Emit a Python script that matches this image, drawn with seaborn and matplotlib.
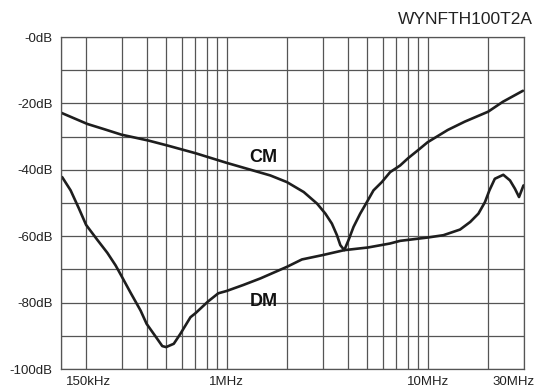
import numpy as np
import matplotlib.pyplot as plt
import matplotlib.transforms as mtransforms
import pandas as pd
import seaborn as sns

# insertion loss curves, frequency in MHz, attenuation in dB
cm_freq = [0.15, 0.203, 0.247, 0.299, 0.409, 0.509, 0.70, 1.0, 1.446, 1.65, 1.995,
           2.42, 2.82, 3.10, 3.34, 3.54, 3.68, 3.85, 4.04, 4.28, 4.62, 4.99, 5.38,
           5.92, 6.51, 7.3, 8.0, 9.0, 10.0, 12.6, 15.3, 20.0, 23.7, 29.8]
cm_db = [-22.8, -26.2, -27.8, -29.4, -31.2, -32.7, -35.0, -37.9, -40.7, -41.7, -43.7,
         -46.7, -50.2, -53.2, -56.2, -59.7, -62.7, -64.2, -61.2, -57.2, -53.2, -49.7,
         -46.2, -43.7, -40.7, -38.7, -36.5, -34.0, -31.7, -28.0, -25.5, -22.5, -19.5,
         -16.2]

dm_freq = [0.152, 0.1675, 0.184, 0.2, 0.2274, 0.255, 0.2804, 0.3, 0.3327, 0.3733,
           0.4, 0.4515, 0.4786, 0.5, 0.546, 0.589, 0.661, 0.70, 0.807, 0.909, 1.0,
           1.21, 1.475, 2.0, 2.37, 3.0, 3.85, 5.05, 6.5, 7.3, 10.0, 11.98, 14.5,
           16.3, 17.9, 19.3, 20.3, 21.6, 23.8, 25.7, 27.2, 28.5, 30.0]
dm_db = [-42.2, -46.2, -51.6, -56.6, -61.1, -65.0, -68.8, -72.0, -77.0, -82.4,
         -86.4, -90.9, -93.1, -93.4, -92.4, -89.4, -84.4, -83.2, -79.7, -77.2, -76.5,
         -74.7, -72.7, -69.2, -67.0, -65.7, -64.2, -63.4, -62.2, -61.4, -60.4, -59.7,
         -58.0, -55.7, -53.2, -49.7, -46.2, -42.7, -41.5, -43.2, -45.7, -48.2, -44.7]

x_ticks = [0.15, 1, 10, 30]
x_labels = ['150kHz', '1MHz', '10MHz', '30MHz']
x_grid = [0.2, 0.3, 0.4, 0.5, 0.6, 0.7, 0.8, 0.9, 2, 3, 4, 5, 6, 7, 8, 9, 20]
y_ticks = [0, -20, -40, -60, -80, -100]
y_labels = ['-0dB', '-20dB', '-40dB', '-60dB', '-80dB', '-100dB']
y_grid = [-10, -30, -50, -70, -90]

sns.set_style('white')
plt.rcParams['font.family'] = ['Liberation Sans', 'DejaVu Sans']

fig = plt.figure(figsize=(5.44, 3.92), dpi=100)
ax = fig.add_axes([61 / 544, 23 / 392, 462.5 / 544, 332 / 392])

line_col = '#1e1e1e'
grid_col = '#555555'

sns.lineplot(x=cm_freq, y=cm_db, ax=ax, color=line_col, linewidth=1.9)
sns.lineplot(x=dm_freq, y=dm_db, ax=ax, color=line_col, linewidth=1.9)

ax.set_xscale('log')
ax.set_xlim(0.15, 30)
ax.set_ylim(-100, 0)

ax.set_xticks(x_ticks)
ax.set_xticklabels(x_labels)
ax.set_xticks(x_grid, minor=True)
ax.set_yticks(y_ticks)
ax.set_yticklabels(y_labels)
ax.set_yticks(y_grid, minor=True)
ax.tick_params(which='both', length=0)
ax.tick_params(axis='x', pad=5, labelsize=9.5, colors='#222222')
ax.tick_params(axis='y', pad=6, labelsize=9.5, colors='#222222')
ax.grid(which='both', color=grid_col, linewidth=0.9)

for s in ax.spines.values():
    s.set_color(grid_col)
    s.set_linewidth(0.9)

# nudge the end labels like the original
lbls = ax.get_xticklabels()
lbls[0].set_horizontalalignment('left')
lbls[0].set_transform(lbls[0].get_transform() + mtransforms.ScaledTranslation(5 / 100, 0, fig.dpi_scale_trans))
lbls[-1].set_transform(lbls[-1].get_transform() + mtransforms.ScaledTranslation(-10 / 100, 0, fig.dpi_scale_trans))

ax.text(1.53, -36.4, 'CM', fontsize=13, fontweight='bold', ha='center', va='center', color='#111111')
ax.text(1.53, -79.8, 'DM', fontsize=13, fontweight='bold', ha='center', va='center', color='#111111')

fig.text(533 / 544, 1 - 19.5 / 392, 'WYNFTH100T2A', fontsize=12.5, ha='right', va='center', color='#222222')

fig.savefig('out.png', dpi=100)
